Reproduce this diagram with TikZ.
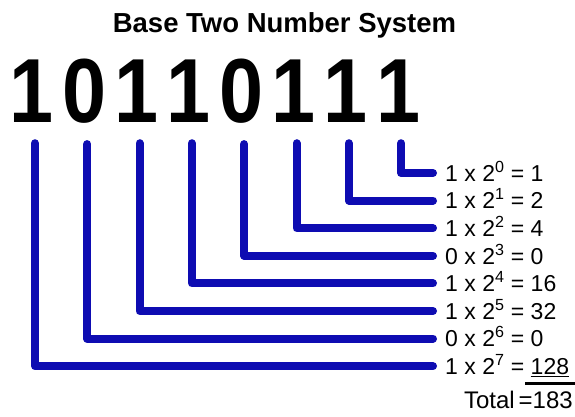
\documentclass[tikz,border=0pt]{standalone}
\usepackage{fontspec}
\setmainfont{Liberation Sans}
\definecolor{bitblue}{RGB}{14,12,178}
\begin{document}
\begin{tikzpicture}[x=1pt, y=-1pt,
    bitdigit/.style={inner sep=0pt, anchor=base, font=\bfseries\fontsize{91}{91}\selectfont},
    rowlabel/.style={anchor=west, inner xsep=12pt, inner ysep=0pt, text height=16.5pt, text depth=0pt,
      font=\fontsize{23}{23}\selectfont},
    bitline/.style={line width=8pt, bitblue, line cap=round, line join=round}]
    \useasboundingbox (0,0) rectangle (575,417);
    \node[anchor=base, font=\bfseries\fontsize{27.5}{28}\selectfont] (title) at (284.5,33) {Base Two Number System};
    \foreach \b/\val [count=\k from 0] in {1/\underline{128},0/0,1/32,1/16,0/0,1/4,1/2,1/1} {
        \pgfmathtruncatemacro{\p}{7-\k}
        \node[bitdigit] (d\k) at (32+52.3*\k,122) {\scalebox{0.87}[1]{\b}};
        \node[rowlabel] (r\k) at (433,173+27.6*\p) {\b\ x 2\textsuperscript{\p} = \val};
        \draw[bitline] (d\k.south) ++(3,21) |- (r\k.west);
    }
    \coordinate (sumL) at (525,383);
    \coordinate (sumR) at (575,383);
    \draw[line width=3pt] (sumL) -- (sumR);
    \node[anchor=base east, inner sep=0pt, font=\fontsize{24}{24}\selectfont] (total) at (573,408) {Total\,=183};
\end{tikzpicture}
\end{document}
